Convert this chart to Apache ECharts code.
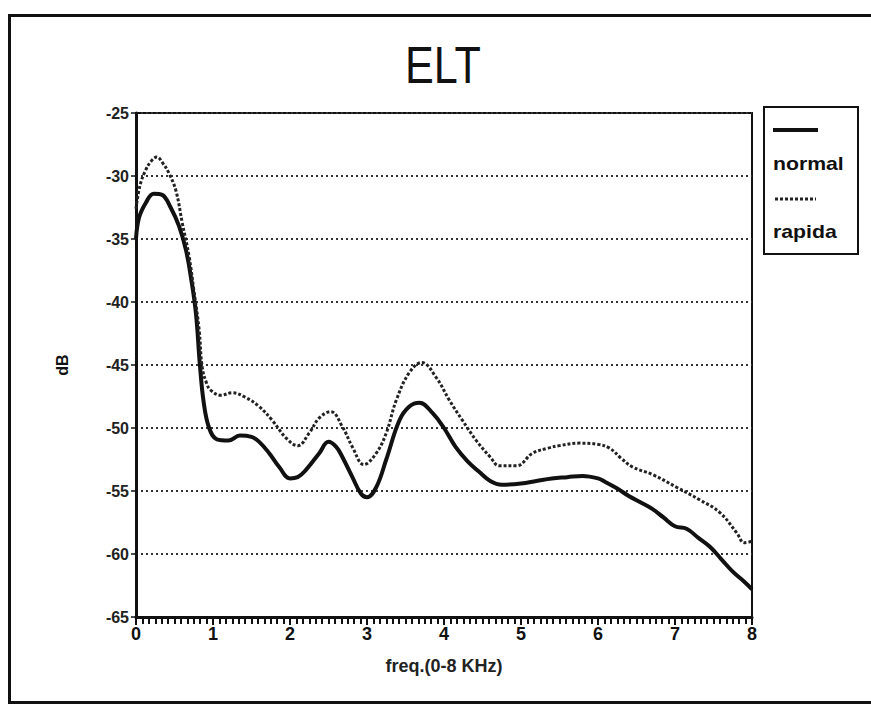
<!DOCTYPE html>
<html>
<head>
<meta charset="utf-8">
<script src="https://cdn.jsdelivr.net/npm/echarts@6/dist/echarts.min.js"></script>
<style>
  html, body { margin: 0; padding: 0; background: #fff; }
  #chart { width: 871px; height: 705px; }
</style>
</head>
<body>
<div id="chart"></div>
<script>
// values (kHz, dB)
var normalFreq = [0, 0.04, 0.13, 0.23, 0.34, 0.45, 0.56, 0.65, 0.72, 0.78, 0.83, 0.88, 0.95, 1.05, 1.2, 1.35, 1.5, 1.6, 1.73, 1.86, 2.0, 2.1, 2.21, 2.38, 2.5, 2.6, 2.68, 2.81, 2.92, 3.0, 3.12, 3.25, 3.42, 3.55, 3.68, 3.85, 4.0, 4.15, 4.3, 4.46, 4.6, 4.75, 5.0, 5.2, 5.4, 5.6, 5.8, 6.0, 6.1, 6.25, 6.4, 6.55, 6.7, 6.85, 7.0, 7.15, 7.3, 7.45, 7.6, 7.75, 7.9, 8.0];
var normalDb = [-35, -33.3, -32.1, -31.4, -31.5, -32.5, -34, -35.9, -38.3, -41, -45, -48, -50, -50.9, -51, -50.6, -50.7, -51.1, -52, -53.1, -54, -53.9, -53.3, -52, -51.1, -51.5, -52.3, -53.9, -55.2, -55.5, -54.7, -52.5, -49.4, -48.3, -48, -48.8, -50, -51.5, -52.6, -53.5, -54.2, -54.5, -54.4, -54.2, -54, -53.9, -53.8, -54, -54.3, -54.8, -55.4, -55.9, -56.4, -57.1, -57.8, -58, -58.7, -59.4, -60.4, -61.4, -62.2, -62.8];

var rapidaFreq = [0, 0.05, 0.12, 0.2, 0.27, 0.35, 0.43, 0.52, 0.6, 0.69, 0.75, 0.82, 0.86, 0.92, 0.97, 1.1, 1.25, 1.43, 1.6, 1.77, 1.95, 2.1, 2.25, 2.38, 2.53, 2.68, 2.81, 2.96, 3.12, 3.25, 3.38, 3.55, 3.71, 3.9, 4.07, 4.24, 4.42, 4.6, 4.72, 4.94, 5.15, 5.35, 5.5, 5.76, 6.0, 6.15, 6.3, 6.45, 6.71, 7.02, 7.32, 7.58, 7.8, 7.9, 8.0];
var rapidaDb = [-32.6, -30.8, -29.6, -28.8, -28.5, -29, -29.8, -31.2, -33.7, -36.4, -39, -42.2, -45.2, -46.5, -47, -47.4, -47.2, -47.6, -48.3, -49.4, -50.8, -51.4, -50.4, -49.2, -48.7, -49.9, -51.5, -52.9, -52, -50.4, -47.8, -45.6, -44.8, -46, -47.8, -49.4, -51, -52.3, -53, -53, -52, -51.6, -51.4, -51.2, -51.3, -51.6, -52.4, -53.1, -53.7, -54.7, -55.7, -56.7, -58.3, -59.1, -59];

var seriesNames = ['normal', 'rapida'];
var yMin = -65, yMax = -25, yStep = 5;
var xMin = 0, xMax = 8, xStep = 1;

function pairs(xs, ys) {
    var out = [];
    for (var i = 0; i < xs.length; i++) out.push([xs[i], ys[i]]);
    return out;
}

var font = '"Liberation Sans", Arial, sans-serif';
var chart = echarts.init(document.getElementById('chart'), null, {renderer: 'svg'});

chart.setOption({
    backgroundColor: '#fff',
    animation: false,
    grid: {
        left: 136, top: 113, right: 119, bottom: 88,
        show: true, borderColor: '#111', borderWidth: 2
    },
    xAxis: {
        type: 'value',
        min: xMin, max: xMax, interval: xStep,
        name: 'freq.(0-8 KHz)',
        nameLocation: 'middle',
        nameGap: 40,
        nameTextStyle: {fontFamily: font, fontSize: 18, fontWeight: 'bold', color: '#222'},
        axisLine: {lineStyle: {color: '#111', width: 3}},
        axisTick: {length: 8, lineStyle: {color: '#111', width: 2}},
        minorTick: {show: true, splitNumber: 12, length: 7, lineStyle: {color: '#111', width: 2}},
        axisLabel: {fontFamily: font, fontSize: 18, fontWeight: 'bold', color: '#111', margin: 8},
        splitLine: {show: false}
    },
    yAxis: {
        type: 'value',
        min: yMin, max: yMax, interval: yStep,
        name: 'dB',
        nameLocation: 'middle',
        nameGap: 66,
        nameTextStyle: {fontFamily: font, fontSize: 16, fontWeight: 'bold', color: '#111'},
        axisLine: {show: true, lineStyle: {color: '#111', width: 3}},
        axisTick: {show: true, length: 5, lineStyle: {color: '#111', width: 1.5}},
        axisLabel: {fontFamily: font, fontSize: 16, fontWeight: 'bold', color: '#222', margin: 7},
        splitLine: {show: true, lineStyle: {color: '#333', width: 2, type: [2, 3]}}
    },
    series: [
        {
            name: seriesNames[0],
            type: 'line',
            showSymbol: false,
            smooth: 0.4,
            lineStyle: {color: '#111', width: 4},
            data: pairs(normalFreq, normalDb)
        },
        {
            name: seriesNames[1],
            type: 'line',
            showSymbol: false,
            smooth: 0.4,
            lineStyle: {color: '#222', width: 3, type: [3, 2]},
            data: pairs(rapidaFreq, rapidaDb)
        }
    ],
    graphic: [
        // outer frame of the slide
        {type: 'rect', left: 7, top: 13, shape: {width: 900, height: 687},
            style: {fill: 'none', stroke: '#111', lineWidth: 3}, silent: true},
        // title, squeezed like the original typeface
        {type: 'text', x: 443, y: 65, scaleX: 0.83,
            style: {text: 'ELT', font: '52px ' + font, fill: '#111', align: 'center', verticalAlign: 'middle'}},
        // legend box
        {type: 'rect', left: 763, top: 106, shape: {width: 94, height: 147},
            style: {fill: '#fff', stroke: '#111', lineWidth: 2}},
        {type: 'line', shape: {x1: 773, y1: 130, x2: 818, y2: 130},
            style: {stroke: '#111', lineWidth: 4}},
        {type: 'text', x: 773, y: 164, scaleX: 1.18,
            style: {text: seriesNames[0], font: 'bold 18px ' + font, fill: '#111', verticalAlign: 'middle'}},
        {type: 'line', shape: {x1: 775, y1: 199, x2: 816, y2: 199},
            style: {stroke: '#222', lineWidth: 3, lineDash: [3, 2]}},
        {type: 'text', x: 773, y: 232, scaleX: 1.18,
            style: {text: seriesNames[1], font: 'bold 18px ' + font, fill: '#111', verticalAlign: 'middle'}}
    ]
});
</script>
</body>
</html>
